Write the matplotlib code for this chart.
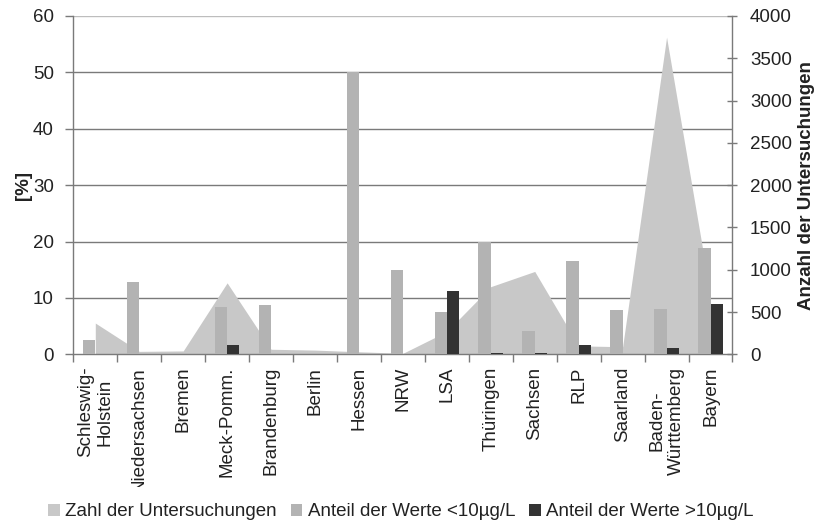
import matplotlib
matplotlib.use('Agg')
import matplotlib.pyplot as plt
from matplotlib.patches import Patch
from matplotlib.transforms import Bbox, TransformedBbox, blended_transform_factory
import numpy as np

categories = ["Schleswig-\nHolstein", "Niedersachsen", "Bremen", "Meck-Pomm.",
              "Brandenburg", "Berlin", "Hessen", "NRW", "LSA", "Thüringen",
              "Sachsen", "RLP", "Saarland", "Baden-\nWürttemberg", "Bayern"]
zahl_untersuchungen = [370, 35, 40, 845, 60, 50, 30, 12, 270, 800, 980, 100, 90, 3750, 700]
anteil_unter_10 = [2.6, 12.8, 0, 8.4, 8.8, 0, 50, 14.9, 7.5, 20.0, 4.1, 16.5, 7.9, 8.0, 18.8]
anteil_ueber_10 = [0, 0, 0, 1.6, 0, 0, 0, 0, 11.2, 0.2, 0.2, 1.7, 0, 1.2, 9.0]
left_ticks = [0, 10, 20, 30, 40, 50, 60]
right_ticks = [0, 500, 1000, 1500, 2000, 2500, 3000, 3500, 4000]
legend_labels = ["Zahl der Untersuchungen", "Anteil der Werte <10µg/L", "Anteil der Werte >10µg/L"]

FONT = ['Liberation Sans', 'DejaVu Sans']
plt.rcParams['font.family'] = FONT
FS = 13.5
TXT = '#222222'
AREA_C = '#c8c8c8'
GRAY_C = '#b3b3b3'
DARK_C = '#333333'
AXC = '#7a7a7a'

fig = plt.figure(figsize=(8.22, 5.29), dpi=100)
ax = fig.add_axes([0.0892, 0.3302, 0.8019, 0.6396])
ax2 = ax.twinx()
ax.set_zorder(ax2.get_zorder() + 1)
ax.patch.set_visible(False)

x = np.arange(len(categories))

# area (secondary axis)
ax2.fill_between(x, 0, zahl_untersuchungen, color=AREA_C, lw=0, zorder=2)
ax2.set_ylim(right_ticks[0], right_ticks[-1])
ax2.set_yticks(right_ticks)

# gridlines drawn behind area, in primary-axis units
tr = blended_transform_factory(ax2.transAxes, ax.transData)
for v in left_ticks[1:]:
    ax2.plot([0, 1], [v, v], transform=tr, color=AXC if v < left_ticks[-1] else '#bdbdbd',
             lw=1.0, zorder=1, solid_capstyle='butt')

# bars (primary axis)
w = 0.28
ax.bar(x - w / 2, anteil_unter_10, w, color=GRAY_C, lw=0, zorder=3)
ax.bar(x + w / 2, anteil_ueber_10, w, color=DARK_C, lw=0, zorder=3)
ax.set_ylim(left_ticks[0], left_ticks[-1])
ax.set_yticks(left_ticks)
ax.set_xlim(-0.5, len(categories) - 0.5)

ax.set_xticks(np.arange(-0.5, len(categories), 1))
ax.set_xticklabels([])
ax.set_xticks(x, minor=True)
ax.set_xticklabels(categories, minor=True, rotation=90, ha='center', va='top',
                   multialignment='center', fontsize=FS, color=TXT)
ax.tick_params(axis='x', which='major', direction='out', length=6, color=AXC, width=1)
ax.tick_params(axis='x', which='minor', length=0, pad=9)
ax.tick_params(axis='y', direction='out', length=6, color=AXC, width=1,
               labelsize=FS, labelcolor=TXT, pad=8)
ax2.tick_params(axis='y', direction='inout', length=7, color=AXC, width=1,
                labelsize=FS, labelcolor=TXT, pad=9)

for a in (ax, ax2):
    a.spines['top'].set_visible(False)
    for s in ('left', 'right', 'bottom'):
        a.spines[s].set_color(AXC)
        a.spines[s].set_linewidth(1.0)
ax.spines['right'].set_visible(False)
ax2.spines['left'].set_visible(False)
ax2.spines['bottom'].set_visible(False)

ax.set_ylabel('[%]', fontsize=FS, fontweight='bold', color=TXT)
ax.yaxis.set_label_coords(-0.0627, 0.5)
ax2.set_ylabel('Anzahl der Untersuchungen', fontsize=FS, fontweight='bold', color=TXT)
ax2.yaxis.set_label_coords(1.0997, 0.5)

# clip category labels like the original
clip = TransformedBbox(Bbox([[0, 1 - 487 / 529], [1, 1]]), fig.transFigure)
for lbl in ax.get_xticklabels(minor=True):
    lbl.set_clip_box(clip)
    lbl.set_clip_on(True)

handles = [Patch(facecolor=AREA_C, lw=0), Patch(facecolor=GRAY_C, lw=0), Patch(facecolor=DARK_C, lw=0)]
fig.legend(handles, legend_labels, loc='center', bbox_to_anchor=(0.488, 1 - 512 / 529),
           ncol=3, frameon=False, handlelength=0.6, handleheight=0.6, handletextpad=0.3,
           columnspacing=0.75, fontsize=FS, labelcolor=TXT, borderpad=0, borderaxespad=0)

fig.savefig('out.png', dpi=100)
